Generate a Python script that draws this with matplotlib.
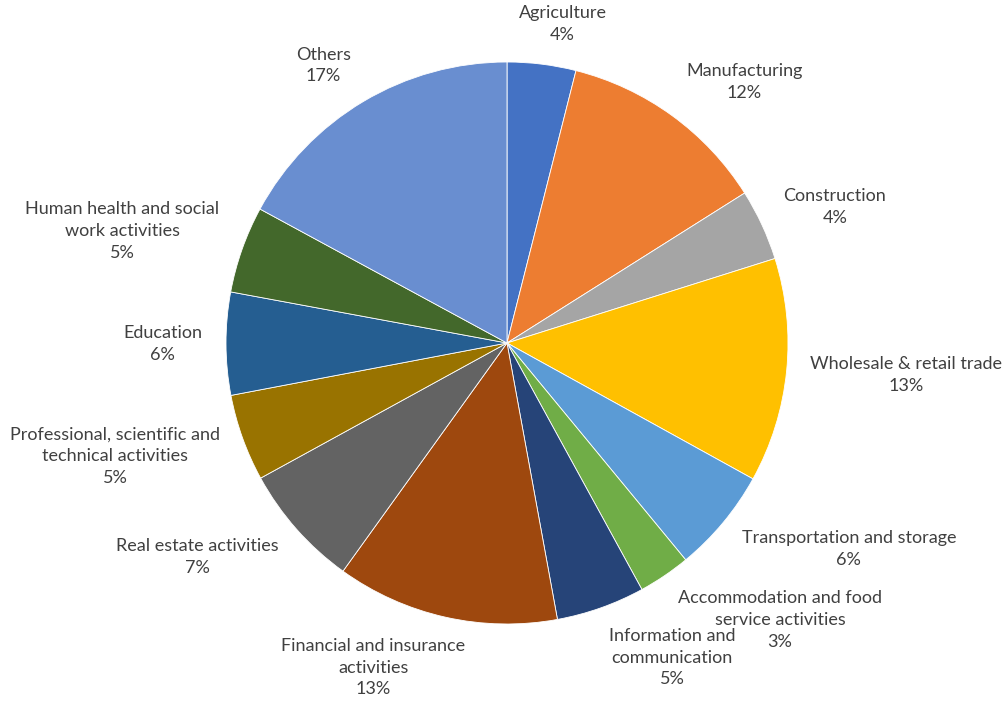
import numpy as np
import matplotlib
matplotlib.use("Agg")
import matplotlib.pyplot as plt

sectors = ["Agriculture", "Manufacturing", "Construction", "Wholesale & retail trade",
           "Transportation and storage", "Accommodation and food\nservice activities",
           "Information and\ncommunication", "Financial and insurance\nactivities",
           "Real estate activities", "Professional, scientific and\ntechnical activities",
           "Education", "Human health and social\nwork activities", "Others"]
shares = [3.95, 12.1, 4.1, 12.9, 6.0, 3.0, 5.1, 12.8, 7.1, 5.0, 5.9, 5.0, 17.1]
colors = ["#4472C4", "#ED7D31", "#A5A5A5", "#FFC000", "#5B9BD5", "#70AD47", "#264478",
          "#9E480E", "#636363", "#997300", "#255E91", "#43682B", "#698ED0"]

plt.rcParams['font.family'] = ['Lato', 'DejaVu Sans']

W, H = 1005, 702
fig = plt.figure(figsize=(W / 100, H / 100), dpi=100)
ax = fig.add_axes([0, 0, 1, 1])

cx, cy, R = 507, H - 343, 281
wedges, _ = ax.pie(shares, colors=colors, startangle=90, counterclock=False,
                   center=(cx, cy), radius=R,
                   wedgeprops=dict(edgecolor="white", linewidth=0.6))
ax.set_xlim(0, W)
ax.set_ylim(0, H)
ax.set_aspect("equal")
ax.axis("off")

# excel-ish outside-end labels: anchor box edge near a point just outside the rim
total = sum(shares)
renderer = fig.canvas.get_renderer()
for w, name, v in zip(wedges, sectors, shares):
    mid = np.deg2rad((w.theta1 + w.theta2) / 2)
    ux, uy = np.cos(mid), np.sin(mid)
    px, py = cx + 1.085 * R * ux, cy + 1.075 * R * uy
    t = ax.text(px, py, "%s\n%d%%" % (name, round(v / total * 100)),
                ha="center", va="center", multialignment="center",
                fontsize=13, color="#404040", linespacing=1.45)
    bb = t.get_window_extent(renderer)
    ox = np.clip(3.3 * ux, -1, 1)
    oy = np.clip(1.1 * uy, -1, 1)
    t.set_position((px + ox * bb.width / 2, py + oy * bb.height / 2))

fig.savefig("out.png", dpi=100)
